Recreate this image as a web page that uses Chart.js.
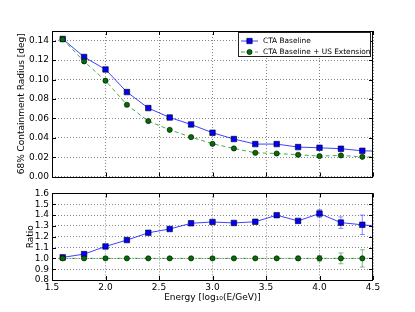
<!DOCTYPE html>
<html>
<head>
<meta charset="utf-8">
<title>PSF containment radius</title>
<script src="https://cdn.jsdelivr.net/npm/chart.js"></script>
<style>
  body { margin: 0; background: #fff; }
  #wrap { position: relative; width: 415px; height: 312px; background: #fff; }
  #top { position: absolute; left: 0; top: 0; }
  #bot { position: absolute; left: 0; top: 185px; }
</style>
</head>
<body>
<div id="wrap">
  <canvas id="top" width="415" height="185"></canvas>
  <canvas id="bot" width="415" height="127"></canvas>
</div>
<script>
// energies in log10(E/GeV); last one sits past the axis edge (line runs off the plot)
const energy = [1.6, 1.8, 2.0, 2.2, 2.4, 2.6, 2.8, 3.0, 3.2, 3.4, 3.6, 3.8, 4.0, 4.2, 4.4, 4.6];
const baseline = [0.1418, 0.1232, 0.1104, 0.0871, 0.0706, 0.0609, 0.0537, 0.0452, 0.0387, 0.0335, 0.0335, 0.0304, 0.0297, 0.0287, 0.0266, 0.026];
const withUS = [0.1414, 0.1187, 0.0988, 0.0740, 0.0572, 0.0482, 0.0407, 0.0338, 0.0290, 0.0245, 0.0238, 0.0225, 0.0211, 0.0218, 0.0204, 0.020];
const ratioBaseline = [1.009, 1.039, 1.11, 1.169, 1.236, 1.271, 1.324, 1.336, 1.327, 1.338, 1.399, 1.346, 1.414, 1.33, 1.31, 1.29];
const ratioUS = [1, 1, 1, 1, 1, 1, 1, 1, 1, 1, 1, 1, 1, 1, 1, 1];
const ratioBaselineErr = [0, 0, 0, 0, 0, 0, 0, 0, 0, 0, 0.015, 0.012, 0.035, 0.053, 0.09, 0];
const ratioUSErr = [0, 0, 0, 0, 0, 0, 0, 0, 0, 0, 0.008, 0.02, 0.025, 0.05, 0.08, 0];

const energyTicks = [1.5, 2.0, 2.5, 3.0, 3.5, 4.0, 4.5];
const psfTicks = [0, 0.02, 0.04, 0.06, 0.08, 0.10, 0.12, 0.14];
const ratioTicks = [0.8, 0.9, 1.0, 1.1, 1.2, 1.3, 1.4, 1.5, 1.6];

const FONT = 'DejaVu Sans';
const BLUE = '#0000ff', BLUE_LINE = 'rgba(0,0,255,0.75)', BLUE_ERR = 'rgba(0,0,255,0.45)';
const GREEN = '#007000', GREEN_LINE = 'rgba(0,128,0,0.7)', GREEN_ERR = 'rgba(0,128,0,0.5)';

const pts = ys => energy.map((x, i) => ({ x: x, y: ys[i] }));
const useTicks = list => scale => { scale.ticks = list.map(v => ({ value: v })); };

// black frame plus small inward ticks on all four sides
const frame = {
  id: 'frame',
  afterDraw(chart) {
    const { ctx, chartArea: a, scales } = chart;
    ctx.save();
    ctx.strokeStyle = '#000';
    ctx.lineWidth = 1;
    ctx.beginPath();
    scales.x.ticks.forEach(t => {
      const px = Math.round(scales.x.getPixelForValue(t.value)) + 0.5;
      ctx.moveTo(px, a.bottom); ctx.lineTo(px, a.bottom - 4);
      ctx.moveTo(px, a.top); ctx.lineTo(px, a.top + 4);
    });
    scales.y.ticks.forEach(t => {
      const py = Math.round(scales.y.getPixelForValue(t.value)) + 0.5;
      ctx.moveTo(a.left, py); ctx.lineTo(a.left + 4, py);
      ctx.moveTo(a.right, py); ctx.lineTo(a.right - 4, py);
    });
    ctx.stroke();
    ctx.strokeRect(Math.round(a.left) + 0.5, Math.round(a.top) + 0.5,
      Math.round(a.right - a.left) - 1, Math.round(a.bottom - a.top));
    ctx.restore();
  }
};

// vertical error bars with caps, drawn under the markers
const errorBars = {
  id: 'errorBars',
  beforeDatasetsDraw(chart) {
    const ctx = chart.ctx, y = chart.scales.y;
    chart.data.datasets.forEach((ds, i) => {
      if (!ds.errors) return;
      const meta = chart.getDatasetMeta(i);
      ctx.save();
      ctx.strokeStyle = ds.errorColor;
      ctx.lineWidth = 1;
      meta.data.forEach((pt, j) => {
        const e = ds.errors[j];
        if (!e) return;
        const v = ds.data[j].y;
        const y1 = y.getPixelForValue(v + e), y2 = y.getPixelForValue(v - e);
        ctx.beginPath();
        ctx.moveTo(pt.x, y1); ctx.lineTo(pt.x, y2);
        ctx.moveTo(pt.x - 2.5, y1); ctx.lineTo(pt.x + 2.5, y1);
        ctx.moveTo(pt.x - 2.5, y2); ctx.lineTo(pt.x + 2.5, y2);
        ctx.stroke();
      });
      ctx.restore();
    });
  }
};

// matplotlib style legend box in the top-right corner
const legendBox = {
  id: 'legendBox',
  afterDraw(chart) {
    const ctx = chart.ctx;
    const x0 = 238.5, y0 = 32.5, w = 132, h = 24;
    ctx.save();
    ctx.fillStyle = '#fff';
    ctx.fillRect(x0, y0, w, h);
    ctx.strokeStyle = '#222';
    ctx.lineWidth = 1;
    ctx.strokeRect(x0, y0, w, h);
    const rows = [chart.data.datasets[0], chart.data.datasets[1]];
    rows.forEach((ds, i) => {
      const yy = 41 + i * 11;
      ctx.strokeStyle = ds.borderColor;
      ctx.lineWidth = 1;
      ctx.setLineDash(ds.borderDash || []);
      ctx.beginPath(); ctx.moveTo(241, yy); ctx.lineTo(258, yy); ctx.stroke();
      ctx.setLineDash([]);
      ctx.fillStyle = ds.pointBackgroundColor;
      ctx.strokeStyle = '#000';
      ctx.lineWidth = 0.6;
      ctx.beginPath();
      if (ds.pointStyle === 'rect') ctx.rect(249.5 - 2.7, yy - 2.7, 5.4, 5.4);
      else ctx.arc(249.5, yy, 2.6, 0, Math.PI * 2);
      ctx.fill(); ctx.stroke();
      ctx.fillStyle = '#000';
      ctx.font = '7.4px "' + FONT + '"';
      ctx.textBaseline = 'middle';
      ctx.fillText(ds.label, 263, yy + 0.5);
    });
    ctx.restore();
  }
};

Chart.defaults.font.family = FONT;
Chart.defaults.font.size = 9;
Chart.defaults.color = '#000';

const gridOpts = { color: 'rgba(0,0,0,0.6)', lineWidth: 0.8, drawTicks: false, borderDash: [1, 2] };
const borderOpts = { display: false, dash: [1, 2] };

new Chart(document.getElementById('top'), {
  type: 'line',
  data: {
    datasets: [
      {
        label: 'CTA Baseline',
        data: pts(baseline),
        borderColor: BLUE_LINE, borderWidth: 1,
        pointStyle: 'rect', pointRadius: 3.9,
        pointBackgroundColor: BLUE, pointBorderColor: '#000', pointBorderWidth: 0.6,
        order: 2
      },
      {
        label: 'CTA Baseline + US Extension',
        data: pts(withUS),
        borderColor: GREEN_LINE, borderWidth: 1, borderDash: [4, 3],
        pointStyle: 'circle', pointRadius: 2.6,
        pointBackgroundColor: GREEN, pointBorderColor: '#000', pointBorderWidth: 0.6,
        order: 1
      }
    ]
  },
  options: {
    responsive: false,
    animation: false,
    layout: { padding: { top: 31, left: 0, right: 42, bottom: 8 } },
    plugins: { legend: { display: false }, tooltip: { enabled: false } },
    scales: {
      x: {
        type: 'linear', min: 1.5, max: 4.5,
        afterBuildTicks: useTicks(energyTicks),
        afterFit: s => { s.height = 0; },
        ticks: { display: false, autoSkip: false },
        grid: gridOpts, border: borderOpts
      },
      y: {
        min: 0, max: 0.15,
        afterBuildTicks: useTicks(psfTicks),
        afterFit: s => { s.width = 52; },
        ticks: { padding: 3, autoSkip: false, callback: v => v.toFixed(2) },
        grid: gridOpts, border: borderOpts,
        title: { display: true, text: '68% Containment Radius [deg]', padding: { top: 16, bottom: 0 } }
      }
    }
  },
  plugins: [frame, legendBox]
});

new Chart(document.getElementById('bot'), {
  type: 'line',
  data: {
    datasets: [
      {
        label: 'CTA Baseline',
        data: pts(ratioBaseline),
        errors: ratioBaselineErr, errorColor: BLUE_ERR,
        borderColor: BLUE_LINE, borderWidth: 1,
        pointStyle: 'rect', pointRadius: 3.9,
        pointBackgroundColor: BLUE, pointBorderColor: '#000', pointBorderWidth: 0.6,
        order: 2
      },
      {
        label: 'CTA Baseline + US Extension',
        data: pts(ratioUS),
        errors: ratioUSErr, errorColor: GREEN_ERR,
        borderColor: GREEN_LINE, borderWidth: 1, borderDash: [4, 2, 1, 2],
        pointStyle: 'circle', pointRadius: 2.6,
        pointBackgroundColor: GREEN, pointBorderColor: '#000', pointBorderWidth: 0.6,
        order: 1
      }
    ]
  },
  options: {
    responsive: false,
    animation: false,
    layout: { padding: { top: 4, left: 0, right: 42, bottom: 0 } },
    plugins: { legend: { display: false }, tooltip: { enabled: false } },
    scales: {
      x: {
        type: 'linear', min: 1.5, max: 4.5,
        afterBuildTicks: useTicks(energyTicks),
        afterFit: s => { s.height = 32; },
        ticks: { padding: 2, maxRotation: 0, autoSkip: false, callback: v => v.toFixed(1) },
        grid: gridOpts, border: borderOpts,
        title: { display: true, text: 'Energy [log\u2081\u2080(E/GeV)]', padding: { top: 0, bottom: 9 } }
      },
      y: {
        min: 0.8, max: 1.6,
        afterBuildTicks: useTicks(ratioTicks),
        afterFit: s => { s.width = 52; },
        ticks: { padding: 3, autoSkip: false, callback: v => v.toFixed(1) },
        grid: gridOpts, border: borderOpts,
        title: { display: true, text: 'Ratio', padding: { top: 25, bottom: 0 } }
      }
    }
  },
  plugins: [frame, errorBars]
});
</script>
</body>
</html>
